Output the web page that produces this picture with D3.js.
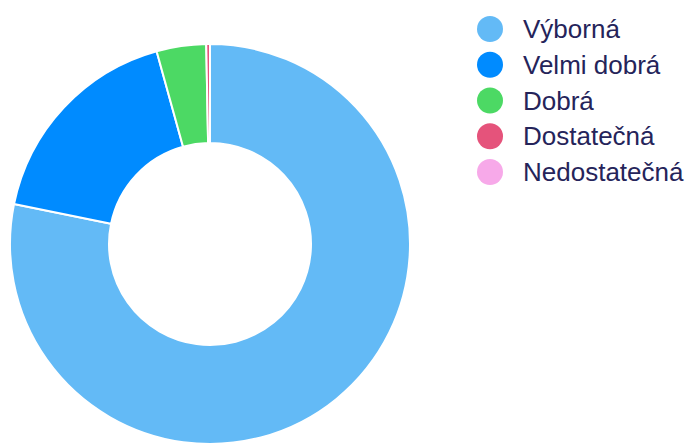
<!DOCTYPE html>
<html>
<head>
<meta charset="utf-8">
<script src="https://cdn.jsdelivr.net/npm/d3@7"></script>
<style>
  html, body { margin: 0; padding: 0; background: #fff; }
  svg { display: block; }
</style>
</head>
<body>
<svg width="690" height="444"></svg>
<script>
// Chart data
const categories = ['Výborná', 'Velmi dobrá', 'Dobrá', 'Dostatečná', 'Nedostatečná'];
const values = [78.2, 17.5, 4.0, 0.3, 0];
const colors = ['#63baf6', '#008bff', '#4cd964', '#e5537b', '#f7a9e9'];

const svg = d3.select('svg');

// Donut geometry
const cx = 210;
const cy = 244;
const outerR = 200;
const innerR = 101;

const pie = d3.pie()
  .value(d => d.value)
  .sort(null);

const arc = d3.arc()
  .innerRadius(innerR)
  .outerRadius(outerR);

const data = categories.map((c, i) => ({ name: c, value: values[i], color: colors[i] }));

const g = svg.append('g')
  .attr('transform', `translate(${cx},${cy})`);

g.selectAll('path')
  .data(pie(data))
  .enter().append('path')
    .attr('d', arc)
    .attr('fill', d => d.data.color)
    .attr('stroke', '#fff')
    .attr('stroke-width', 2)
    .attr('stroke-linejoin', 'round');

// Legend
const legendY = d3.scalePoint()
  .domain(categories)
  .range([29, 172]);

const legend = svg.append('g');

const item = legend.selectAll('.item')
  .data(data)
  .enter().append('g')
    .attr('class', 'item')
    .attr('transform', d => `translate(0,${legendY(d.name)})`);

item.append('circle')
  .attr('cx', 490)
  .attr('r', 13)
  .attr('fill', d => d.color);

item.append('text')
  .attr('x', 523)
  .attr('dy', '0.35em')
  .attr('font-family', 'Liberation Sans, Arial, sans-serif')
  .attr('font-size', 26)
  .attr('fill', '#25245a')
  .text(d => d.name);
</script>
</body>
</html>
